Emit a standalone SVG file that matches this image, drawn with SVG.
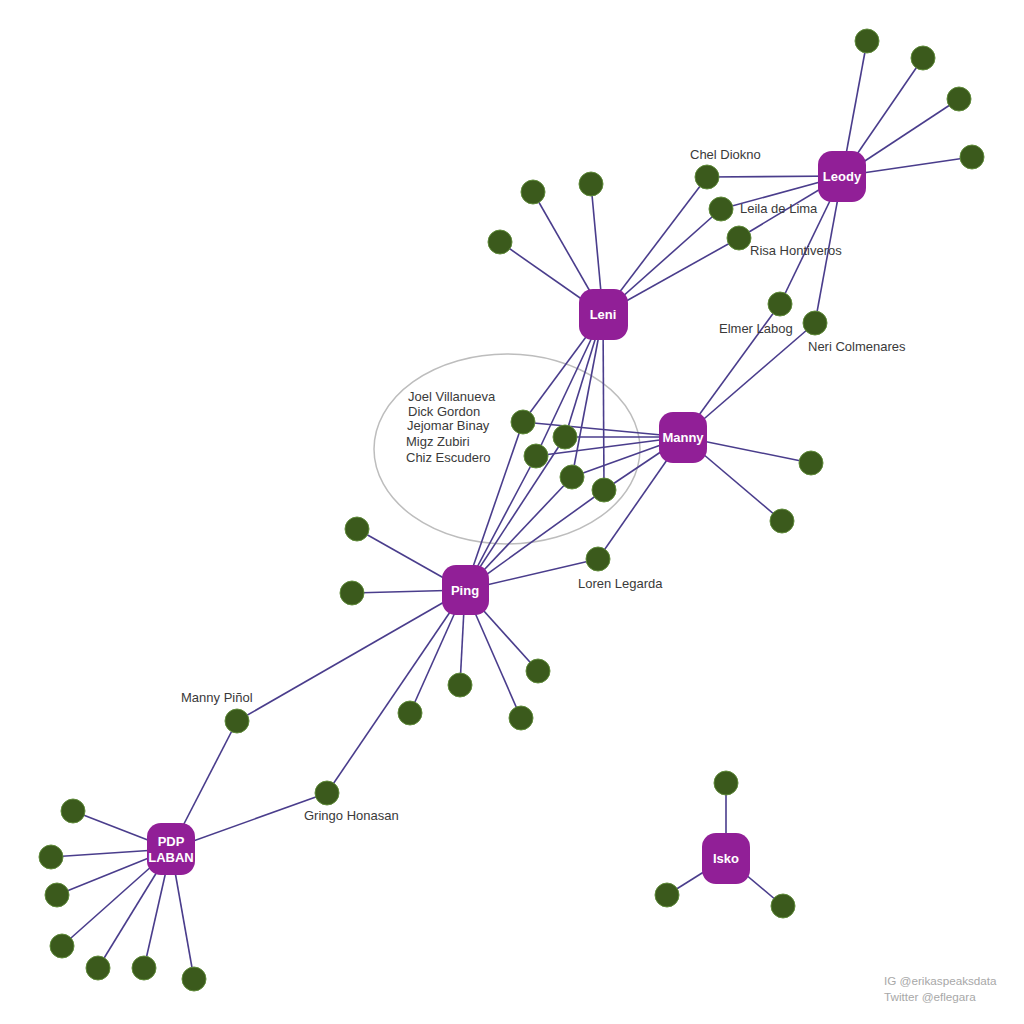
<svg xmlns="http://www.w3.org/2000/svg" width="1024" height="1024" viewBox="0 0 1024 1024">
<style>
.e{stroke:#4a3d8c;stroke-width:1.6;fill:none}
.hub rect{fill:#911f97}
.hub text{fill:#fff;font-family:"Liberation Sans",Arial,sans-serif;font-weight:bold;font-size:13px;text-anchor:middle}
.leaf{fill:#3b5a1c;stroke:#5f8a3a;stroke-width:1}
.lbl{fill:#3a3a3a;font-family:"Liberation Sans",Arial,sans-serif;font-size:13px}
.cr{fill:#a8a8a8;font-family:"Liberation Sans",Arial,sans-serif;font-size:11.7px}
</style>
<rect width="1024" height="1024" fill="#fff"/>
<ellipse cx="507" cy="449" rx="133" ry="95" fill="none" stroke="#bdbdbd" stroke-width="1.5"/>
<g id="connectors">
<line class="e" x1="842" y1="176" x2="867" y2="41"/>
<line class="e" x1="842" y1="176" x2="923" y2="58"/>
<line class="e" x1="842" y1="176" x2="959" y2="99"/>
<line class="e" x1="842" y1="176" x2="972" y2="157"/>
<line class="e" x1="842" y1="176" x2="707" y2="177"/>
<line class="e" x1="842" y1="176" x2="721" y2="209"/>
<line class="e" x1="842" y1="176" x2="739" y2="238"/>
<line class="e" x1="842" y1="176" x2="780" y2="304"/>
<line class="e" x1="842" y1="176" x2="815" y2="323"/>
<line class="e" x1="603" y1="314" x2="707" y2="177"/>
<line class="e" x1="603" y1="314" x2="721" y2="209"/>
<line class="e" x1="603" y1="314" x2="739" y2="238"/>
<line class="e" x1="603" y1="314" x2="533" y2="192"/>
<line class="e" x1="603" y1="314" x2="591" y2="184"/>
<line class="e" x1="603" y1="314" x2="500" y2="242"/>
<line class="e" x1="603" y1="314" x2="523" y2="422"/>
<line class="e" x1="603" y1="314" x2="565" y2="437"/>
<line class="e" x1="603" y1="314" x2="536" y2="456"/>
<line class="e" x1="603" y1="314" x2="572" y2="477"/>
<line class="e" x1="603" y1="314" x2="604" y2="490"/>
<line class="e" x1="683" y1="437" x2="780" y2="304"/>
<line class="e" x1="683" y1="437" x2="815" y2="323"/>
<line class="e" x1="683" y1="437" x2="523" y2="422"/>
<line class="e" x1="683" y1="437" x2="565" y2="437"/>
<line class="e" x1="683" y1="437" x2="536" y2="456"/>
<line class="e" x1="683" y1="437" x2="572" y2="477"/>
<line class="e" x1="683" y1="437" x2="604" y2="490"/>
<line class="e" x1="683" y1="437" x2="811" y2="463"/>
<line class="e" x1="683" y1="437" x2="782" y2="521"/>
<line class="e" x1="683" y1="437" x2="598" y2="559"/>
<line class="e" x1="465" y1="590" x2="523" y2="422"/>
<line class="e" x1="465" y1="590" x2="565" y2="437"/>
<line class="e" x1="465" y1="590" x2="536" y2="456"/>
<line class="e" x1="465" y1="590" x2="572" y2="477"/>
<line class="e" x1="465" y1="590" x2="604" y2="490"/>
<line class="e" x1="465" y1="590" x2="598" y2="559"/>
<line class="e" x1="465" y1="590" x2="357" y2="529"/>
<line class="e" x1="465" y1="590" x2="352" y2="593"/>
<line class="e" x1="465" y1="590" x2="538" y2="671"/>
<line class="e" x1="465" y1="590" x2="460" y2="685"/>
<line class="e" x1="465" y1="590" x2="410" y2="713"/>
<line class="e" x1="465" y1="590" x2="521" y2="718"/>
<line class="e" x1="465" y1="590" x2="237" y2="721"/>
<line class="e" x1="465" y1="590" x2="327" y2="793"/>
<line class="e" x1="171" y1="849" x2="237" y2="721"/>
<line class="e" x1="171" y1="849" x2="327" y2="793"/>
<line class="e" x1="171" y1="849" x2="73" y2="811"/>
<line class="e" x1="171" y1="849" x2="51" y2="857"/>
<line class="e" x1="171" y1="849" x2="57" y2="895"/>
<line class="e" x1="171" y1="849" x2="62" y2="946"/>
<line class="e" x1="171" y1="849" x2="98" y2="968"/>
<line class="e" x1="171" y1="849" x2="144" y2="968"/>
<line class="e" x1="171" y1="849" x2="194" y2="979"/>
<line class="e" x1="726" y1="858" x2="726" y2="783"/>
<line class="e" x1="726" y1="858" x2="667" y2="895"/>
<line class="e" x1="726" y1="858" x2="783" y2="906"/>
</g>
<g id="leaves">
<circle class="leaf" cx="867" cy="41" r="12"/>
<circle class="leaf" cx="923" cy="58" r="12"/>
<circle class="leaf" cx="959" cy="99" r="12"/>
<circle class="leaf" cx="972" cy="157" r="12"/>
<g id="chel-diokno"><circle class="leaf" cx="707" cy="177" r="12"/><text class="lbl" x="690" y="159">Chel Diokno</text></g>
<g id="leila-de-lima"><circle class="leaf" cx="721" cy="209" r="12"/><text class="lbl" x="740" y="213">Leila de Lima</text></g>
<g id="risa-hontiveros"><circle class="leaf" cx="739" cy="238" r="12"/><text class="lbl" x="750" y="255">Risa Hontiveros</text></g>
<g id="elmer-labog"><circle class="leaf" cx="780" cy="304" r="12"/><text class="lbl" x="719" y="333">Elmer Labog</text></g>
<g id="neri-colmenares"><circle class="leaf" cx="815" cy="323" r="12"/><text class="lbl" x="808" y="351">Neri Colmenares</text></g>
<circle class="leaf" cx="533" cy="192" r="12"/>
<circle class="leaf" cx="591" cy="184" r="12"/>
<circle class="leaf" cx="500" cy="242" r="12"/>
<circle class="leaf" cx="523" cy="422" r="12"/>
<circle class="leaf" cx="565" cy="437" r="12"/>
<circle class="leaf" cx="536" cy="456" r="12"/>
<circle class="leaf" cx="572" cy="477" r="12"/>
<circle class="leaf" cx="604" cy="490" r="12"/>
<circle class="leaf" cx="811" cy="463" r="12"/>
<circle class="leaf" cx="782" cy="521" r="12"/>
<g id="loren-legarda"><circle class="leaf" cx="598" cy="559" r="12"/><text class="lbl" x="578" y="588">Loren Legarda</text></g>
<circle class="leaf" cx="357" cy="529" r="12"/>
<circle class="leaf" cx="352" cy="593" r="12"/>
<circle class="leaf" cx="538" cy="671" r="12"/>
<circle class="leaf" cx="460" cy="685" r="12"/>
<circle class="leaf" cx="410" cy="713" r="12"/>
<circle class="leaf" cx="521" cy="718" r="12"/>
<g id="manny-pinol"><circle class="leaf" cx="237" cy="721" r="12"/><text class="lbl" x="181" y="702">Manny Piñol</text></g>
<g id="gringo-honasan"><circle class="leaf" cx="327" cy="793" r="12"/><text class="lbl" x="304" y="820">Gringo Honasan</text></g>
<circle class="leaf" cx="73" cy="811" r="12"/>
<circle class="leaf" cx="51" cy="857" r="12"/>
<circle class="leaf" cx="57" cy="895" r="12"/>
<circle class="leaf" cx="62" cy="946" r="12"/>
<circle class="leaf" cx="98" cy="968" r="12"/>
<circle class="leaf" cx="144" cy="968" r="12"/>
<circle class="leaf" cx="194" cy="979" r="12"/>
<circle class="leaf" cx="726" cy="783" r="12"/>
<circle class="leaf" cx="667" cy="895" r="12"/>
<circle class="leaf" cx="783" cy="906" r="12"/>
</g>
<g id="ellipse-labels">
<text class="lbl" x="408" y="401">Joel Villanueva</text>
<text class="lbl" x="408" y="416">Dick Gordon</text>
<text class="lbl" x="407" y="430">Jejomar Binay</text>
<text class="lbl" x="406" y="446">Migz Zubiri</text>
<text class="lbl" x="406" y="462">Chiz Escudero</text>
</g>
<g id="leody" class="hub"><rect x="818" y="151" width="48" height="51" rx="14"/><text x="842" y="181">Leody</text></g>
<g id="leni" class="hub"><rect x="579" y="289" width="49" height="51" rx="14"/><text x="603" y="319">Leni</text></g>
<g id="manny" class="hub"><rect x="659" y="412" width="48" height="51" rx="14"/><text x="683" y="442">Manny</text></g>
<g id="ping" class="hub"><rect x="442" y="565" width="47" height="50" rx="14"/><text x="465" y="595">Ping</text></g>
<g id="pdp-laban" class="hub"><rect x="147" y="823" width="48" height="52" rx="14"/><text x="171" y="846">PDP</text><text x="171" y="862">LABAN</text></g>
<g id="isko" class="hub"><rect x="702" y="833" width="48" height="51" rx="14"/><text x="726" y="863">Isko</text></g>
<g id="credit">
<text class="cr" x="884" y="985">IG @erikaspeaksdata</text>
<text class="cr" x="884" y="1001">Twitter @eflegara</text>
</g>
</svg>
